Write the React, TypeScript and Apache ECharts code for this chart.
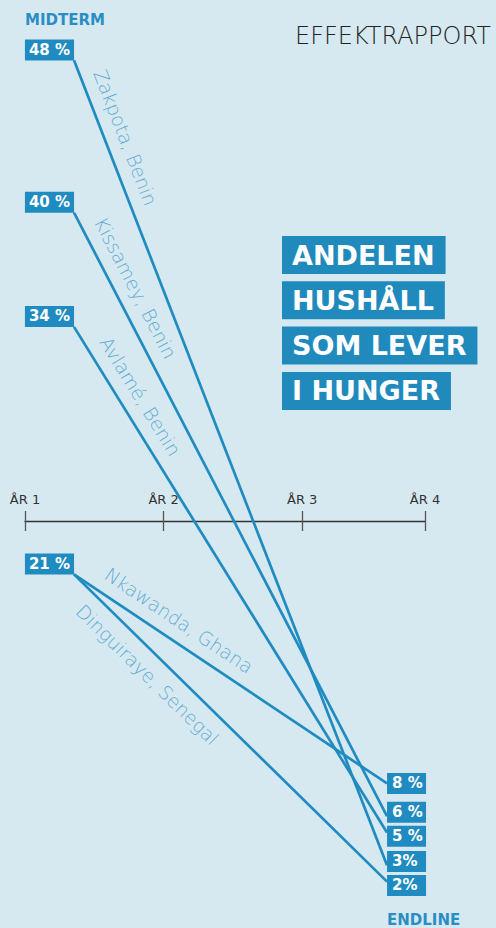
import React, { useEffect, useRef } from "react";
import * as echarts from "echarts";

// ---- data ----
const LOCATIONS = ["Zakpota, Benin", "Kissamey, Benin", "Avlamé, Benin", "Nkawanda, Ghana", "Dinguiraye, Senegal"];
const MIDTERM = [48, 40, 34, 21, 21];
const ENDLINE = [3, 6, 5, 8, 2];
const ENDLINE_LABELS = ["3%", "6 %", "5 %", "8 %", "2%"];
const YEAR_LABELS = ["ÅR 1", "ÅR 2", "ÅR 3", "ÅR 4"];
const HEADING_LINES = ["ANDELEN", "HUSHÅLL", "SOM LEVER", "I HUNGER"];
const TITLE = "EFFEKTRAPPORT";
const START_NAME = "MIDTERM";
const END_NAME = "ENDLINE";

// ---- layout / style ----
const W = 496;
const H = 928;
const FONT = "DejaVu Sans";
const BG = "#d7e9f0";
const BLUE = "#1f8bc0";
const NAME_COLOR = "#63acd5";
const PLOT = { left: 74, right: 109, top: 47, bottom: 30 };
const MID_RANGE = [4, 48.7];
const END_RANGE = [1, 53];
const YEAR_AXIS_END = 3.886; // the last year tick sits closer than the others
const NAME_T = [0.105, 0.14, 0.158, 0.3, 0.28];
const NAME_SIDE = [1, 1, 1, 1, -1];
const NAME_OFFSET = 20;
const BOX_H = 21;
const BOX_GAP = 3;

const boxLabel = {
  show: true,
  color: "#fff",
  fontFamily: FONT,
  fontWeight: "bold",
  fontSize: 15,
  lineHeight: 15,
  backgroundColor: BLUE,
  padding: [3, 4, 3, 4],
};

const hiddenParallelAxis = {
  name: "",
  axisLine: { show: false },
  axisTick: { show: false },
  axisLabel: { show: false, formatter: () => "" },
  splitLine: { show: false },
};

export default function App() {
  const ref = useRef<HTMLDivElement>(null);
  useEffect(() => {
    document.body.style.margin = "0";
    const chart = echarts.init(ref.current!, null, { renderer: "svg" });
    const uniqueMid = Array.from(new Set(MIDTERM));
    const option: any = {
      animation: false,
      backgroundColor: BG,
      textStyle: { fontFamily: FONT },
      parallel: {
        left: PLOT.left,
        right: PLOT.right,
        top: PLOT.top,
        bottom: PLOT.bottom,
      },
      parallelAxis: [
        { dim: 0, min: MID_RANGE[0], max: MID_RANGE[1], ...hiddenParallelAxis },
        { dim: 1, min: END_RANGE[0], max: END_RANGE[1], ...hiddenParallelAxis },
      ],
      grid: [
        { left: PLOT.left, right: PLOT.right, top: PLOT.top, bottom: PLOT.bottom },
        { left: 25, right: 71, top: 521, height: 0 },
      ],
      xAxis: [
        { gridIndex: 0, type: "value", min: 0, max: 1, show: false },
        {
          gridIndex: 1,
          type: "value",
          position: "top",
          min: 1,
          max: YEAR_AXIS_END,
          interval: 1,
          axisLine: { show: true, onZero: false, lineStyle: { color: "#333", width: 1.3 } },
          axisTick: { show: true, inside: false, length: 10, lineStyle: { color: "#555", width: 1.3 } },
          axisLabel: {
            show: true,
            margin: 15,
            color: "#333",
            fontSize: 13,
            fontFamily: FONT,
            showMinLabel: true,
            showMaxLabel: true,
            formatter: (v: number) => YEAR_LABELS[Math.round(v) - 1] ?? "",
          },
          splitLine: { show: false },
        },
        {
          gridIndex: 1,
          type: "value",
          position: "bottom",
          min: 1,
          max: YEAR_AXIS_END,
          interval: 1,
          axisLine: { show: false, onZero: false },
          axisTick: { show: true, inside: false, length: 10, lineStyle: { color: "#555", width: 1.3 } },
          axisLabel: { show: false },
          splitLine: { show: false },
        },
      ],
      yAxis: [
        { gridIndex: 0, type: "value", min: MID_RANGE[0], max: MID_RANGE[1], show: false },
        { gridIndex: 0, type: "value", position: "right", min: END_RANGE[0], max: END_RANGE[1], show: false },
        { gridIndex: 1, type: "value", show: false },
      ],
      series: [
        {
          type: "parallel",
          silent: true,
          data: MIDTERM.map((m, i) => [m, ENDLINE[i]]),
          lineStyle: { color: BLUE, width: 2.7, opacity: 1 },
          emphasis: { disabled: true },
          z: 2,
        },
        {
          type: "scatter",
          xAxisIndex: 0,
          yAxisIndex: 0,
          silent: true,
          z: 5,
          symbolSize: 0.1,
          itemStyle: { color: "rgba(0,0,0,0)", opacity: 1 },
          data: uniqueMid.map((v) => [0, v]),
          label: {
            ...boxLabel,
            position: "insideBottomRight",
            distance: 0,
            formatter: (p: any) => `${p.value[1]} %`,
          },
        },
        {
          type: "scatter",
          xAxisIndex: 0,
          yAxisIndex: 1,
          silent: true,
          z: 5,
          symbolSize: 0.1,
          itemStyle: { color: "rgba(0,0,0,0)", opacity: 1 },
          data: ENDLINE.map((v, i) => ({ value: [1, v], name: ENDLINE_LABELS[i] })),
          label: {
            ...boxLabel,
            position: "right",
            distance: 0,
            width: 29,
            overflow: "none",
            padding: [3, 5, 3, 5],
            formatter: "{b}",
          },
        },
      ],
    };
    chart.setOption(option);

    // pixel helpers from the chart's own axes
    const xL = chart.convertToPixel({ xAxisIndex: 0 } as any, 0) as unknown as number;
    const xR = chart.convertToPixel({ xAxisIndex: 0 } as any, 1) as unknown as number;
    const yMid = (v: number) => chart.convertToPixel({ yAxisIndex: 0 } as any, v) as unknown as number;
    const yEnd = (v: number) => chart.convertToPixel({ yAxisIndex: 1 } as any, v) as unknown as number;

    // stack the endline boxes so they do not overlap (clusters centred on their values)
    const desired = ENDLINE.map((v) => yEnd(v));
    const order = desired.map((_, i) => i).sort((a, b) => desired[a] - desired[b]);
    type Cluster = { items: number[]; center: number };
    const clusters: Cluster[] = [];
    const span = (c: Cluster) => c.items.length * BOX_H + (c.items.length - 1) * BOX_GAP;
    order.forEach((i) => {
      clusters.push({ items: [i], center: desired[i] });
      while (clusters.length > 1) {
        const cur = clusters[clusters.length - 1];
        const prev = clusters[clusters.length - 2];
        const prevBottom = prev.center + span(prev) / 2;
        const curTop = cur.center - span(cur) / 2;
        if (prevBottom + BOX_GAP > curTop) {
          const items = prev.items.concat(cur.items);
          const center = items.reduce((s, k) => s + desired[k], 0) / items.length;
          clusters.splice(clusters.length - 2, 2, { items, center });
        } else break;
      }
    });
    const shifts = new Array(ENDLINE.length).fill(0);
    clusters.forEach((c) => {
      const top = c.center - span(c) / 2;
      c.items.forEach((k, j) => {
        const center = top + j * (BOX_H + BOX_GAP) + BOX_H / 2;
        shifts[k] = center - desired[k];
      });
    });

    const graphics: any[] = [];
    LOCATIONS.forEach((name, i) => {
      const yL = yMid(MIDTERM[i]);
      const yR = yEnd(ENDLINE[i]);
      const dx = xR - xL;
      const dy = yR - yL;
      const len = Math.sqrt(dx * dx + dy * dy);
      const ux = dx / len;
      const uy = dy / len;
      const t = NAME_T[i];
      const px = xL + dx * t + NAME_SIDE[i] * NAME_OFFSET * uy;
      const py = yL + dy * t - NAME_SIDE[i] * NAME_OFFSET * ux;
      graphics.push({
        type: "text",
        x: px,
        y: py,
        rotation: -Math.atan2(dy, dx),
        silent: true,
        style: {
          text: name,
          fill: NAME_COLOR,
          font: `200 19px "${FONT}"`,
          align: "center",
          verticalAlign: "middle",
        },
      });
    });
    HEADING_LINES.forEach((line, i) => {
      graphics.push({
        type: "text",
        x: 282,
        y: 236 + i * 45.3,
        silent: true,
        style: {
          text: line,
          fill: "#fff",
          font: `bold 27px "${FONT}"`,
          lineHeight: 28,
          backgroundColor: "#208abd",
          padding: [5, 11, 5, 10],
          align: "left",
          verticalAlign: "top",
        },
      });
    });
    graphics.push({
      type: "text",
      x: 491,
      y: 36,
      silent: true,
      style: { text: TITLE, fill: "#222", font: `200 24px "${FONT}"`, align: "right", verticalAlign: "middle" },
    });
    graphics.push({
      type: "text",
      x: 25,
      y: 20,
      silent: true,
      style: { text: START_NAME, fill: "#2a8ec4", font: `bold 15px "${FONT}"`, align: "left", verticalAlign: "middle" },
    });
    graphics.push({
      type: "text",
      x: 387,
      y: 920,
      silent: true,
      style: { text: END_NAME, fill: "#2a8ec4", font: `bold 15px "${FONT}"`, align: "left", verticalAlign: "middle" },
    });

    chart.setOption({
      series: [
        {},
        {},
        {
          data: ENDLINE.map((v, i) => ({
            value: [1, v],
            name: ENDLINE_LABELS[i],
            label: { offset: [0, shifts[i]] },
          })),
        },
      ],
      graphic: graphics,
    });

    return () => chart.dispose();
  }, []);
  return <div ref={ref} style={{ position: "fixed", left: 0, top: 0, width: W, height: H, background: BG }} />;
}
